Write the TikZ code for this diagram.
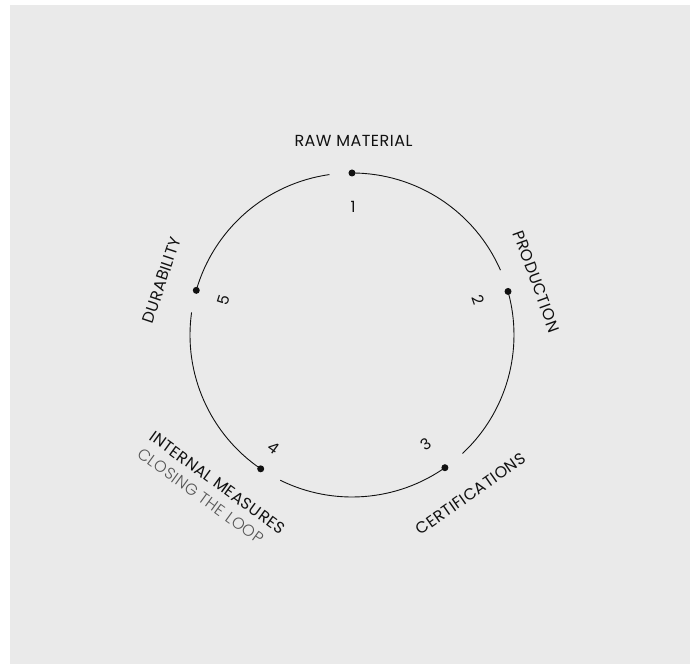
\documentclass[tikz,border=0pt]{standalone}
\usepackage{fontspec}
\setmainfont{Poppins}[LetterSpace=3]
\newfontfamily\lightfont{Poppins Light}[LetterSpace=3]
\definecolor{bggrey}{HTML}{EAEAEA}
\definecolor{ink}{HTML}{111111}
\definecolor{subgrey}{HTML}{555555}
\begin{document}
\begin{tikzpicture}[x=1pt,y=1pt,
  ring/.style={line width=0.9pt, draw=ink},
  stepdot/.style={circle, fill=ink, inner sep=0pt, minimum size=7pt},
  steplabel/.style={font=\fontsize{16}{18}\selectfont, text=ink, inner sep=0pt},
  stepnum/.style={font=\fontsize{15.5}{18}\selectfont, text=ink, inner sep=0pt},
  sublabel/.style={font=\lightfont\fontsize{16}{18}\selectfont, text=subgrey, inner sep=0pt}]
\useasboundingbox (-352,-329) rectangle (344,335);
\fill[white] (-352,-329) rectangle (344,335);
\fill[bggrey] (-342,-329) rectangle (338,330);
% dots
\node[stepdot] (d1) at (90:162) {};
\node[stepdot] (d2) at (15.6:162) {};
\node[stepdot] (d3) at (-55:162) {};
\node[stepdot] (d4) at (-124.3:162) {};
\node[stepdot] (d5) at (164:162) {};
% arcs
\draw[ring] (d1.center) arc[start angle=90, end angle=23.6, radius=162];
\draw[ring] (d2.center) arc[start angle=15.6, end angle=-47, radius=162];
\draw[ring] (d3.center) arc[start angle=-55, end angle=-116.3, radius=162];
\draw[ring] (d4.center) arc[start angle=-124.3, end angle=-188, radius=162];
\draw[ring] (d5.center) arc[start angle=164, end angle=98, radius=162];
% numbers
\node[stepnum] (n1) at (1,128) {1};
\node[stepnum, rotate=-71] (n2) at (126,35) {2};
\node[stepnum, rotate=35] (n3) at (73.5,-109) {3};
\node[stepnum, rotate=-36] (n4) at (-78,-113) {4};
\node[stepnum, rotate=72] (n5) at (-128,34.5) {5};
% labels
\node[steplabel] (l1) at (1.5,194.5) {RAW MATERIAL};
\node[steplabel, rotate=-70] (l2) at (184.5,53.5) {PRODUCTION};
\node[steplabel, rotate=35] (l3) at (118.8,-159) {CERTIFICATIONS};
\node[steplabel, rotate=-36] (l4) at (-134.5,-147.5) {INTERNAL MEASURES};
\node[sublabel, rotate=-36, anchor=north west] (l4b) at ([shift={(-36-90:9)}]l4.south west) {CLOSING THE LOOP};
\node[steplabel, rotate=71.5] (l5) at (-190.3,55) {DURABILITY};
\end{tikzpicture}
\end{document}
